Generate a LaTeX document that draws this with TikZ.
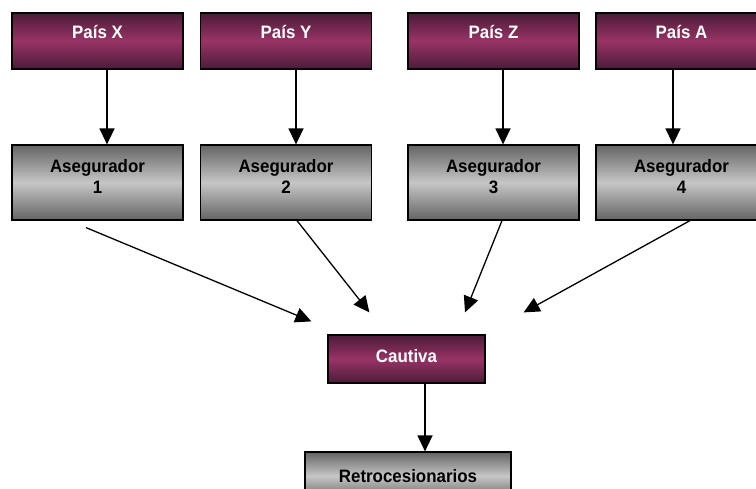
\documentclass[tikz,border=0pt]{standalone}
\usepackage{fontspec}
\setmainfont{Liberation Sans}
\newfontfamily\boxfont[FakeStretch=0.94]{Liberation Sans}
\usetikzlibrary{arrows.meta}

\definecolor{vino}{HTML}{993366}
\definecolor{vinodark}{HTML}{4A1C38}
\definecolor{grisclaro}{HTML}{C6C6C6}
\definecolor{grisoscuro}{HTML}{646464}

\tikzset{
  pais/.style={draw=black, line width=1.2bp, minimum width=171bp, minimum height=56bp,
    top color=vinodark, bottom color=vinodark, middle color=vino, text=white,
    font=\boxfont\bfseries\fontsize{18bp}{21bp}\selectfont, align=center,
    text height=13bp, text depth=18bp, inner sep=0pt},
  gris/.style={draw=black, line width=1.2bp, minimum width=171bp, minimum height=75bp,
    top color=grisoscuro, bottom color=grisoscuro, middle color=grisclaro, text=black,
    font=\boxfont\bfseries\fontsize{18bp}{21bp}\selectfont, align=center,
    text depth=12bp, inner sep=0pt},
  flecha/.style={line width=1.3bp, -{Triangle[length=16bp,width=15bp]}}
}

\begin{document}
\begin{tikzpicture}[x=1bp,y=-1bp]
\useasboundingbox (0,0) rectangle (756,489);

% paises
\node[pais] (px) at (97.5,41) {País X};
\node[pais] (py) at (286,41) {País Y};
\node[pais] (pz) at (493.5,41) {País Z};
\node[pais] (pa) at (681.5,41) {País A};

% aseguradores
\node[gris] (a1) at (97.5,182.5) {Asegurador\\1};
\node[gris] (a2) at (286,182.5) {Asegurador\\2};
\node[gris] (a3) at (493.5,182.5) {Asegurador\\3};
\node[gris] (a4) at (681.5,182.5) {Asegurador\\4};

\node[pais, minimum width=157bp, minimum height=48bp, text depth=7bp] (cautiva) at (406.5,359) {Cautiva};
\node[gris, minimum width=206bp, minimum height=48bp, text height=13bp, text depth=0bp] (retro) at (408,476) {Retrocesionarios};

\draw[flecha] ([xshift=9.5bp]px.south) -- ([xshift=9.5bp]a1.north);
\draw[flecha] ([xshift=10bp]py.south) -- ([xshift=10bp]a2.north);
\draw[flecha] ([xshift=9.5bp]pz.south) -- ([xshift=9.5bp]a3.north);
\draw[flecha] ([xshift=-8.5bp]pa.south) -- ([xshift=-8.5bp]a4.north);

\draw[flecha] ([xshift=-11.5bp,yshift=-7bp]a1.south) -- ([xshift=-16bp,yshift=13bp]cautiva.north west);
\draw[flecha] ([xshift=11bp]a2.south) -- ([xshift=42bp,yshift=22bp]cautiva.north west);
\draw[flecha] ([xshift=8.5bp]a3.south) -- ([xshift=58.5bp,yshift=22bp]cautiva.north);
\draw[flecha] ([xshift=8.5bp]a4.south) -- ([xshift=38bp,yshift=22bp]cautiva.north east);

\draw[flecha] ([xshift=18.5bp]cautiva.south) -- ([xshift=18.5bp]cautiva.south |- retro.north);
\end{tikzpicture}
\end{document}
